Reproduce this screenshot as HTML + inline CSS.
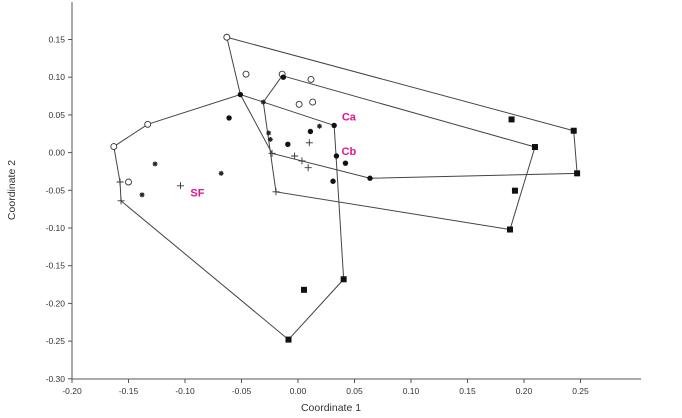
<!DOCTYPE html>
<html><head><meta charset="utf-8"><style>
body{margin:0;background:#fff}
svg{display:block;font-family:"Liberation Sans",sans-serif}
</style></head><body>
<svg id="chart" width="682" height="418" viewBox="0 0 682 418"></svg>
<script>
const xTicks=[-0.20,-0.15,-0.10,-0.05,0.00,0.05,0.10,0.15,0.20,0.25];
const yTicks=[0.15,0.10,0.05,0.00,-0.05,-0.10,-0.15,-0.20,-0.25,-0.30];
const openCircles=[[-0.063,0.153],[-0.046,0.104],[-0.014,0.104],[0.0115,0.097],[0.001,0.064],[0.013,0.067],[-0.133,0.0375],[-0.163,0.008],[-0.150,-0.039]];
const filledDots=[[-0.051,0.077],[-0.061,0.046],[-0.009,0.011],[0.011,0.028],[0.032,0.036],[0.034,-0.0045],[0.042,-0.014],[0.031,-0.038],[0.0637,-0.034],[-0.013,0.100]];
const squares=[[0.244,0.029],[0.247,-0.0275],[0.2097,0.0074],[0.1876,-0.102],[0.189,0.044],[0.192,-0.0505],[0.0404,-0.168],[0.0053,-0.182],[-0.0084,-0.248]];
const plusses=[[-0.1575,-0.039],[-0.1566,-0.064],[-0.104,-0.044],[-0.023,-0.001],[-0.0195,-0.052],[-0.003,-0.0045],[0.0035,-0.011],[0.009,-0.020],[0.010,0.013]];
const stars=[[-0.1265,-0.015],[-0.138,-0.056],[-0.068,-0.0275],[-0.026,0.026],[-0.0245,0.0175],[0.019,0.035],[-0.0307,0.067]];
const hullA=[[-0.063,0.153],[0.244,0.029],[0.247,-0.0275],[0.0637,-0.034],[-0.023,-0.001],[-0.051,0.077]];
const hullB=[[-0.014,0.102],[0.2097,0.0074],[0.1876,-0.102],[-0.0195,-0.052],[-0.0307,0.067]];
const hullSF=[[-0.163,0.008],[-0.133,0.0375],[-0.051,0.077],[-0.0307,0.067],[0.032,0.036],[0.0404,-0.168],[-0.0084,-0.248],[-0.1566,-0.064],[-0.1575,-0.039]];
const groupLabels=[["Ca",0.045,0.048],["Cb",0.045,0.002],["SF",-0.089,-0.053]];

const X=v=>298+v*1130, Y=v=>152.6-v*754;
const svg=document.getElementById('chart'),NS='http://www.w3.org/2000/svg';
function mk(t,a,p){const e=document.createElementNS(NS,t);for(const k in a)e.setAttribute(k,a[k]);(p||svg).appendChild(e);return e;}
const axes=mk('g',{});


let l=mk('line',{x1:72,y1:2,x2:72,y2:379,stroke:'#555','stroke-width':1},axes);


l=mk('line',{x1:72,y1:379,x2:641,y2:379,stroke:'#555','stroke-width':1},axes);


xTicks.forEach(v=>{const x=X(v);
 mk('line',{x1:x,y1:379,x2:x,y2:383,stroke:'#555'},axes);
 const t=mk('text',{x:x,y:394,'font-size':8.5,'text-anchor':'middle',fill:'#333'},axes);t.textContent=v.toFixed(2);
 
 });
yTicks.forEach(v=>{const y=Y(v);
 mk('line',{x1:68,y1:y,x2:72,y2:y,stroke:'#555'},axes);
 const t=mk('text',{x:65,y:y+3,'font-size':8.5,'text-anchor':'end',fill:'#333'},axes);t.textContent=v.toFixed(2);
 
 });
let t=mk('text',{x:331,y:411,'font-size':10.5,'text-anchor':'middle',fill:'#333'});t.textContent='Coordinate 1';


t=mk('text',{x:0,y:0,'font-size':10.5,'text-anchor':'middle',fill:'#333',transform:'translate(15,190) rotate(-90)'});t.textContent='Coordinate 2';


[[hullA,'hull-a'],[hullB,'hull-b'],[hullSF,'hull-sf']].forEach(([h,n])=>{
 const p=mk('polygon',{points:h.map(d=>X(d[0])+','+Y(d[1])).join(' '),fill:'none',stroke:'#444','stroke-width':1});
 
 });
openCircles.forEach(d=>{const c=mk('circle',{cx:X(d[0]),cy:Y(d[1]),r:3,fill:'#fff',stroke:'#333','stroke-width':0.9});
 
 });
filledDots.forEach(d=>{const c=mk('circle',{cx:X(d[0]),cy:Y(d[1]),r:2.7,fill:'#111'});
 
 });
squares.forEach(d=>{const r=mk('rect',{x:X(d[0])-3,y:Y(d[1])-3,width:6,height:6,fill:'#111'});
 
 });
plusses.forEach(d=>{const x=X(d[0]),y=Y(d[1]);
 const p=mk('path',{d:`M${x-3.5} ${y}H${x+3.5}M${x} ${y-3.5}V${y+3.5}`,stroke:'#333','stroke-width':0.9});
 
 });
stars.forEach(d=>{const x=X(d[0]),y=Y(d[1]);
 const p=mk('path',{d:`M${x-2.5} ${y}H${x+2.5}M${x} ${y-2.5}V${y+2.5}M${x-1.8} ${y-1.8}L${x+1.8} ${y+1.8}M${x-1.8} ${y+1.8}L${x+1.8} ${y-1.8}`,stroke:'#222','stroke-width':1.1});
 
 });
groupLabels.forEach(g=>{const e=mk('text',{x:X(g[1]),y:Y(g[2])+4,'font-size':11,'font-weight':'bold','text-anchor':'middle',fill:'#e0168c'});e.textContent=g[0];
 
 });
</script>
</body></html>
